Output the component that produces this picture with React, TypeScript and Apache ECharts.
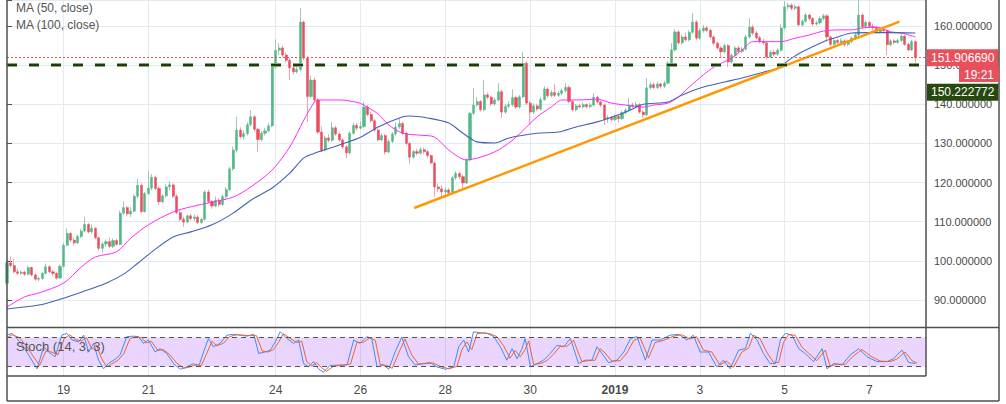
import React, { useEffect, useRef } from 'react';
import * as echarts from 'echarts';

// ---------- time axis (2-hour candles) ----------
const START_UTC = Date.UTC(2018, 11, 17, 16);
const SLOT_COUNT = 261;
const SLOT_HOURS = 2;
const DAY_LABELS: Record<string, string> = {
  '12-19': '19', '12-21': '21', '12-24': '24', '12-26': '26', '12-28': '28',
  '12-30': '30', '01-01': '2019', '01-03': '3', '01-05': '5', '01-07': '7',
};
const pad = (n: number) => (n < 10 ? '0' + n : '' + n);
const categories: string[] = [];
for (let i = 0; i < SLOT_COUNT; i++) {
  const d = new Date(START_UTC + i * SLOT_HOURS * 3600e3);
  categories.push(`${pad(d.getUTCMonth() + 1)}-${pad(d.getUTCDate())} ${pad(d.getUTCHours())}`);
}
const isDayTick = (v: string) => v.endsWith(' 00') && DAY_LABELS[v.slice(0, 5)] !== undefined;

// ---------- candles: [open, close, low, high] ----------
const candles: number[][] = [
  [94.3, 99.5, 93.8, 100.2], [99.5, 98.8, 98.3, 101.1], [98.8, 97.2, 96.8, 100.6], [97.2, 96.8, 96.3, 98],
  [96.8, 97.1, 96.4, 97.6], [97.1, 96.6, 96.1, 97.5], [96.6, 98.3, 96.3, 98.8], [98.3, 96.4, 96, 98.5],
  [96.4, 95.3, 94.9, 96.8], [95.3, 95.5, 94.8, 96], [95.5, 96.8, 95.2, 97.2], [96.8, 98.5, 96.5, 99.3],
  [98.5, 97.2, 96.9, 98.9], [97.2, 96.8, 96.2, 97.7], [96.8, 95.6, 95.2, 97.2], [95.6, 98.6, 95.4, 99.1],
  [98.6, 104, 98.3, 104.6], [104, 107, 103.7, 108.3], [107, 105.3, 104.8, 107.4], [105.3, 104.6, 104, 106],
  [104.6, 106.2, 104.3, 106.7], [106.2, 107.6, 105.8, 108.2], [107.6, 109.3, 107.3, 111.2], [109.3, 107.4, 107, 109.7],
  [107.4, 108.3, 107, 109.3], [108.3, 105.9, 105.5, 108.7], [105.9, 103.2, 102.6, 106.2], [103.2, 104.3, 102.1, 104.8],
  [104.3, 104.9, 103.6, 105.5], [104.9, 103.7, 103.2, 105.9], [103.7, 105.2, 103.3, 105.7], [105.2, 104.2, 103.8, 105.6],
  [104.2, 112.2, 104, 112.8], [112.2, 113.6, 111.8, 115.2], [113.6, 112, 111.5, 114], [112, 112.7, 111.2, 113.8],
  [112.7, 116.5, 112.4, 117], [116.5, 119.3, 116, 121], [119.3, 112.6, 112.2, 119.8], [112.6, 117.2, 112.3, 117.6],
  [117.2, 118.6, 116.8, 123], [118.6, 121.3, 118, 122.2], [121.3, 118.5, 118, 121.8], [118.5, 115.1, 114.3, 119],
  [115.1, 116.6, 114.7, 117], [116.6, 118.9, 116.2, 119.6], [118.9, 119.4, 118.1, 120.4], [119.4, 116.5, 116, 119.8],
  [116.5, 112.3, 111.9, 117], [112.3, 110.6, 110.1, 112.9], [110.6, 109.9, 108.7, 111.3], [109.9, 111.5, 109.6, 111.9],
  [111.5, 110.8, 110.3, 112], [110.8, 111.2, 110.2, 111.8], [111.2, 109.8, 109.4, 111.6], [109.8, 110.6, 109.5, 111],
  [110.6, 117.6, 110.3, 118], [117.6, 115.2, 114.7, 118.2], [115.2, 114, 113.3, 115.6], [114, 115.5, 113.7, 116.4],
  [115.5, 114.4, 113.8, 116], [114.4, 116.4, 114, 116.9], [116.4, 118.2, 115.9, 118.8], [118.2, 123.5, 117.8, 124],
  [123.5, 128.3, 123, 129.2], [128.3, 133.4, 127.6, 136.8], [133.4, 131.7, 131.2, 134.1], [131.7, 132.5, 131, 133.3],
  [132.5, 134.8, 132, 135.4], [134.8, 136.8, 134.3, 138.5], [136.8, 133.6, 133, 137.2], [133.6, 131, 127.8, 134],
  [131, 132.6, 130.5, 133.2], [132.6, 133.2, 132, 134], [133.2, 134.5, 132.8, 135.2], [134.5, 149.5, 134.1, 150.3],
  [149.5, 153.8, 149, 156.6], [153.8, 154.4, 152.6, 155.6], [154.4, 152.6, 152, 155], [152.6, 151.2, 150.6, 153.2],
  [151.2, 149.3, 146.2, 151.8], [149.3, 148.3, 147.6, 150.2], [148.3, 148.9, 147.9, 149.8], [148.9, 161, 148.4, 164.6],
  [161, 151.8, 151.2, 161.4], [151.8, 142, 135.5, 152.3], [142, 146.2, 141.5, 147.3], [146.2, 141.1, 140.5, 146.8],
  [141.1, 132.9, 132.4, 141.6], [132.9, 128.3, 127.8, 134.3], [128.3, 131.4, 128, 132], [131.4, 130.8, 130.2, 132.3],
  [130.8, 134, 130.4, 135.5], [134, 132.4, 131.9, 134.5], [132.4, 130.9, 130.4, 132.8], [130.9, 129.1, 128.6, 131.4],
  [129.1, 127.6, 126.2, 129.6], [127.6, 132.6, 127.2, 133.1], [132.6, 134.6, 132.2, 135.3], [134.6, 133.9, 133.3, 135.2],
  [133.9, 134.3, 133.5, 135.6], [134.3, 139.3, 134, 140.6], [139.3, 137.4, 136.9, 139.8], [137.4, 135.8, 135.3, 138],
  [135.8, 133.4, 133, 136.2], [133.4, 130.9, 130.5, 133.8], [130.9, 132, 130.5, 132.6], [132, 127.8, 127.2, 132.4],
  [127.8, 130.5, 127.5, 131], [130.5, 132.4, 130.1, 132.9], [132.4, 134.2, 132, 135.4], [134.2, 135.1, 133.7, 136.4],
  [135.1, 132.6, 132.1, 135.5], [132.6, 130, 129.5, 133], [130, 126.5, 124.9, 130.4], [126.5, 127.9, 126.1, 128.4],
  [127.9, 127.5, 127, 128.6], [127.5, 128.4, 127.1, 129], [128.4, 127.9, 127.3, 128.9], [127.9, 126.9, 126.4, 128.4],
  [126.9, 125, 124.6, 127.2], [125, 118.9, 116.3, 125.3], [118.9, 118.4, 117.6, 119.8], [118.4, 117.6, 116.4, 119.3],
  [117.6, 118.1, 116, 118.8], [118.1, 117.4, 116.8, 118.6], [117.4, 121.2, 117.1, 121.7], [121.2, 122.3, 120.7, 122.9],
  [122.3, 121.5, 120.9, 122.8], [121.5, 119.9, 118, 122], [119.9, 125.8, 119.6, 126.2], [125.8, 137.7, 125.4, 138.1],
  [137.7, 139.8, 137.2, 144.2], [139.8, 140.7, 139.3, 141.8], [140.7, 138.6, 138.1, 141.1], [138.6, 142.4, 138.2, 146.2],
  [142.4, 141.8, 141.2, 143], [141.8, 140.1, 139.6, 142.2], [140.1, 141.1, 139.7, 141.7], [141.1, 143.2, 140.7, 145.4],
  [143.2, 138, 136.5, 143.7], [138, 139.5, 137.6, 140.1], [139.5, 139.9, 139, 140.8], [139.9, 141.7, 139.4, 143.8],
  [141.7, 139.3, 138.8, 142.2], [139.3, 141.9, 138.9, 142.4], [141.9, 150.5, 141.5, 153.4], [150.5, 140.3, 139.8, 151],
  [140.3, 138, 134.7, 140.8], [138, 139.6, 137.5, 140.2], [139.6, 138.8, 138.3, 140.1], [138.8, 141.2, 138.4, 141.8],
  [141.2, 143.9, 140.9, 144.6], [143.9, 142.2, 141.7, 144.3], [142.2, 143, 141.8, 143.6], [143, 142.3, 141.9, 145.2],
  [142.3, 142.8, 141.9, 143.4], [142.8, 143.5, 142.3, 144], [143.5, 144.3, 143, 145.4], [144.3, 140.7, 140.2, 144.8],
  [140.7, 138.6, 138.1, 141.1], [138.6, 139.6, 138.2, 140.1], [139.6, 139.3, 138.9, 140.1], [139.3, 139.9, 138.9, 140.4],
  [139.9, 139.4, 138.9, 140.2], [139.4, 139.8, 139, 140.3], [139.8, 141.8, 139.4, 142.8], [141.8, 140.6, 140.2, 142.2],
  [140.6, 139.8, 139.3, 141], [139.8, 136.2, 134.7, 140.2], [136.2, 136.6, 135.3, 137.2], [136.6, 136.1, 135.6, 137],
  [136.1, 136.9, 135.7, 137.4], [136.9, 136.3, 135.4, 137.4], [136.3, 137.9, 136, 138.4], [137.9, 138.5, 137.4, 139],
  [138.5, 139.8, 138.1, 141.6], [139.8, 139.5, 139, 140.4], [139.5, 139.9, 139.1, 140.5], [139.9, 138, 137.6, 140.3],
  [138, 137.3, 136.6, 138.5], [137.3, 144.2, 137, 146.7], [144.2, 145, 143.8, 145.6], [145, 144.3, 143.9, 145.5],
  [144.3, 145.2, 143.9, 145.8], [145.2, 144.6, 144.1, 145.5], [144.6, 145.4, 144.2, 146], [145.4, 150.5, 145.1, 151],
  [150.5, 153.9, 150.1, 155.6], [153.9, 158.5, 153.4, 159.2], [158.5, 155.7, 155.2, 158.9], [155.7, 157.2, 155.2, 157.7],
  [157.2, 156.5, 156, 158.4], [156.5, 158.4, 156.1, 158.9], [158.4, 161, 158, 163.3], [161, 156.9, 156.4, 161.5],
  [156.9, 158.8, 156.5, 159.4], [158.8, 159.5, 158.3, 160.3], [159.5, 158.9, 158.4, 160], [158.9, 157.2, 156.8, 159.3],
  [157.2, 155.6, 155.1, 157.6], [155.6, 154.4, 153.9, 156], [154.4, 153.4, 152.1, 154.9], [153.4, 155, 153, 155.5],
  [155, 150.8, 149.5, 155.4], [150.8, 152.5, 150.4, 153], [152.5, 154.4, 152.1, 154.9], [154.4, 153.5, 153, 155],
  [153.5, 154.1, 153, 154.7], [154.1, 157.2, 153.8, 157.7], [157.2, 159.7, 156.8, 162], [159.7, 158.2, 157.7, 160.3],
  [158.2, 157, 156.6, 158.7], [157, 156.1, 155.5, 157.5], [156.1, 155.7, 155.2, 156.8], [155.7, 152.1, 151.6, 156.1],
  [152.1, 153.3, 151.8, 153.8], [153.3, 152.8, 152.3, 153.9], [152.8, 153.8, 152.4, 154.3], [153.8, 159.5, 153.5, 160.4],
  [159.5, 164.9, 159.1, 166.4], [164.9, 165.3, 164.3, 166], [165.3, 164.5, 164, 165.8], [164.5, 164.9, 164.1, 165.5],
  [164.9, 160.3, 159.8, 165.2], [160.3, 161.2, 159.8, 161.7], [161.2, 162.8, 160.8, 163.4], [162.8, 161.9, 161.4, 163.2],
  [161.9, 160.5, 160, 162.3], [160.5, 160.8, 160.1, 161.3], [160.8, 161.9, 160.4, 162.4], [161.9, 162.6, 161.4, 163.1],
  [162.6, 157.2, 156, 163], [157.2, 155.3, 154.9, 157.6], [155.3, 156.3, 155, 156.8], [156.3, 155.8, 155.3, 156.7],
  [155.8, 156.2, 155.4, 156.9], [156.2, 155.3, 154.7, 156.6], [155.3, 156, 154.9, 156.4], [156, 156.9, 155.6, 157.3],
  [156.9, 157.7, 156.5, 158.4], [157.7, 162.8, 157.3, 166.6], [162.8, 159.8, 159.3, 163.2], [159.8, 160.9, 159.4, 161.4],
  [160.9, 159.9, 159.5, 161.3], [159.9, 159.6, 158.9, 160.6], [159.6, 158.5, 158.1, 160], [158.5, 159, 158.1, 159.5],
  [159, 158.8, 158.3, 159.4], [158.8, 155.2, 152.6, 159.2], [155.2, 156.2, 154.8, 156.7], [156.2, 155.8, 155.3, 156.6],
  [155.8, 156.3, 155.4, 156.8], [156.3, 157.4, 155.9, 157.9], [157.4, 155.3, 154.9, 157.7], [155.3, 153.9, 153.5, 155.7],
  [153.9, 156, 153.6, 156.5], [156, 151.90669, 150.1, 156.3],
];

// ---------- moving averages: [candle index, value] ----------
const ma50: number[][] = [
  [0, 88.2], [5, 90.8], [9, 91.8], [16, 94.3], [21, 98.4], [25, 101], [31, 102.3], [35, 105.8], [40, 109.2],
  [47, 112.5], [52, 113.8], [58, 115], [64, 116.3], [69, 118.9], [75, 123.2], [80, 129.1], [84, 136], [87, 140.6],
  [88, 141.1], [94, 141.1], [99, 140.5], [101, 139.8], [105, 137.5], [108, 134.7], [112, 132.6], [117, 132.1],
  [121, 131.6], [125, 128.3], [130, 125.8], [134, 126.5], [139, 128.3], [144, 131.6], [150, 136.8], [154, 139.3],
  [157, 141.1], [161, 141.1], [167, 141.3], [171, 140.3], [175, 139.8], [180, 139.3], [183, 139.8], [187, 140.3],
  [190, 141.9], [193, 144.4], [197, 147.5], [200, 149.5], [205, 151.8], [208, 153.9], [211, 156], [215, 156],
  [219, 156], [223, 156.9], [227, 157.7], [231, 158.7], [235, 159], [239, 159], [242, 159.5], [246, 159.7],
  [250, 158.5], [253, 158.2], [257, 157.2],
];
const ma100: number[][] = [
  [0, 87.7], [9, 88.7], [15, 90.2], [21, 92], [28, 94.3], [33, 96.6], [37, 99.4], [41, 102.3], [47, 106.1],
  [52, 107.4], [58, 109.2], [64, 112.2], [69, 115.5], [75, 118.6], [80, 122.4], [84, 126.3], [87, 127.5],
  [89, 128.1], [94, 129.6], [100, 131.6], [105, 134.2], [112, 136.8], [114, 137], [119, 136.5], [125, 135.2],
  [129, 132.6], [133, 130.4], [138, 130.1], [142, 131.4], [150, 132.6], [156, 132.9], [161, 134.2], [167, 135.5],
  [173, 137.3], [177, 138.8], [180, 140], [187, 140.6], [191, 142.4], [197, 144.4], [203, 145.7], [208, 146.7],
  [214, 148.2], [218, 149.2], [222, 151.8], [225, 153.4], [231, 156], [235, 157.2], [239, 158.2], [244, 158.3],
  [249, 158.3], [257, 158.2],
];

// ---------- trend line and levels ----------
const trendLine: number[][] = [[115.2, 113.5], [252.5, 161.1]];
const LAST_PRICE = 151.90669;
const SUPPORT_LEVEL = 150.222772;
const COUNTDOWN = '19:21';
const Y_MIN = 83.1;
const Y_MAX = 166.64;

// ---------- stochastic (14,3,3): [candle index, value] ----------
const stochK: number[][] = [
  [0, 85], [1.4, 89], [2.8, 78], [4.7, 61], [8.5, 15], [10.4, 61], [11.8, 50], [13.6, 40], [15.5, 85], [16.9, 89],
  [18.4, 75], [20.3, 71], [21.7, 85], [23.1, 50], [24.5, 68], [25.9, 33], [27.3, 15], [28.7, 26], [30.6, 35], [32, 44],
  [33.9, 82], [35.8, 83], [37.2, 82], [38.6, 68], [40, 75], [41.9, 50], [43.3, 57], [45.2, 47], [47.1, 26], [49, 14],
  [50.9, 19], [52.8, 26], [54.2, 19], [55.6, 50], [57, 78], [58.4, 61], [60.3, 68], [62.2, 85], [64.1, 87], [66, 85],
  [67.9, 83], [69.8, 87], [71.2, 47], [73, 50], [74.5, 54], [75.9, 71], [77.3, 92], [79.2, 78], [81.1, 68], [82.5, 75],
  [83.9, 26], [85.3, 19], [86.7, 30], [88.1, 15], [89.5, 8], [91.4, 22], [94.3, 23], [96.2, 23], [98.1, 75], [99.9, 68],
  [101.8, 82], [103.2, 78], [104.7, 19], [106.5, 23], [108, 14], [109.8, 50], [111.7, 81], [113.6, 40], [115.5, 23],
  [117.9, 26], [119.7, 28], [121.6, 19], [124, 14], [126.4, 19], [127.8, 61], [129.2, 75], [130.6, 50], [132, 92],
  [133.9, 90], [135.8, 89], [137.7, 82], [139.6, 61], [141.4, 33], [142.9, 57], [144.3, 36], [145.7, 57], [146.6, 78],
  [148.1, 19], [150, 26], [151.8, 33], [153.7, 47], [155.6, 64], [157.5, 61], [159.4, 78], [161.7, 26], [163.6, 33],
  [165.5, 33], [166.9, 61], [168.3, 47], [170.2, 28], [172.6, 33], [174.5, 50], [176.4, 78], [178.2, 82], [180.6, 33],
  [182.5, 75], [184.8, 75], [187.6, 85], [190, 87], [192.3, 75], [194.2, 85], [196.1, 50], [198.5, 50], [200.8, 19],
  [202.7, 33], [204.6, 15], [207, 54], [208.9, 57], [210.3, 89], [212.2, 75], [214, 47], [215.9, 26], [217.4, 26],
  [218.8, 75], [220.2, 89], [222.1, 85], [224, 57], [225.8, 47], [228.2, 30], [230.6, 57], [232, 15], [233.9, 26],
  [236.2, 23], [238.6, 44], [241, 57], [243.3, 40], [246.1, 30], [249, 30], [250.8, 36], [253.2, 54], [255.1, 28],
  [257, 26],
];
const stochD: number[][] = [
  [0, 80], [1.5, 86], [3.5, 80], [5.5, 62], [9.2, 22], [11, 52], [12.6, 50], [14.4, 44], [16.2, 78], [17.8, 86],
  [19.3, 76], [21, 73], [22.5, 80], [24, 56], [25.3, 64], [26.8, 36], [28.2, 19], [29.6, 25], [31.4, 33], [33, 46],
  [34.8, 78], [36.6, 82], [38, 80], [39.4, 69], [40.9, 72], [42.7, 53], [44.2, 55], [46, 45], [48, 27], [50, 16],
  [51.8, 19], [53.5, 24], [55, 22], [56.5, 47], [58, 72], [59.3, 63], [61.2, 68], [63, 82], [65, 86], [67, 85],
  [68.8, 84], [70.6, 84], [72.2, 52], [73.9, 50], [75.4, 55], [76.8, 70], [78.2, 88], [80, 79], [82, 70], [83.4, 72],
  [84.8, 30], [86.2, 21], [87.6, 28], [89, 17], [90.4, 10], [92.3, 20], [95.2, 23], [97.2, 25], [99, 70], [100.8, 70],
  [102.7, 80], [104.2, 74], [105.6, 24], [107.4, 22], [109, 16], [110.7, 46], [112.6, 77], [114.5, 44], [116.4, 25],
  [118.8, 26], [120.6, 27], [122.5, 20], [125, 15], [127.3, 20], [128.7, 55], [130.1, 71], [131.5, 55], [133, 88],
  [134.8, 90], [136.7, 88], [138.6, 82], [140.5, 63], [142.3, 37], [143.8, 53], [145.2, 40], [146.6, 55], [147.6, 73],
  [149, 24], [151, 26], [152.7, 32], [154.6, 45], [156.5, 62], [158.4, 62], [160.3, 74], [162.6, 30], [164.5, 32],
  [166.4, 33], [167.8, 57], [169.2, 48], [171.1, 31], [173.5, 32], [175.4, 48], [177.3, 74], [179.1, 80], [181.5, 38],
  [183.4, 70], [185.7, 74], [188.5, 83], [190.9, 86], [193.2, 77], [195.1, 82], [197, 54], [199.4, 50], [201.7, 23],
  [203.6, 31], [205.5, 18], [207.9, 50], [209.8, 58], [211.2, 85], [213.1, 77], [214.9, 50], [216.8, 29], [218.3, 28],
  [219.7, 70], [221.1, 86], [223, 85], [224.9, 60], [226.7, 48], [229.1, 32], [231.5, 54], [232.9, 20], [234.8, 25],
  [237.1, 24], [239.5, 42], [241.9, 55], [244.2, 42], [247, 31], [249.9, 30], [251.7, 35], [254.1, 50], [256, 32],
  [257.5, 27],
];
const STOCH_UPPER = 80;
const STOCH_LOWER = 20;

// ---------- styling ----------
const FONT = "'Liberation Sans', Arial, sans-serif";
const GRID_COLOR = '#e2ebf2';
const FRAME_COLOR = '#4f4f4f';
const UP = '#53b987';
const DOWN = '#eb4d5c';
const UP_WICK = '#9fc6bb';
const DOWN_WICK = '#f2a3ab';

export default function App() {
  const ref = useRef<HTMLDivElement>(null);

  useEffect(() => {
    document.body.style.margin = '0';
    if (!ref.current) return;
    const chart = echarts.init(ref.current, undefined, { renderer: 'svg' });

    const bodyData = candles.map(([o, c]) => [o, c, Math.min(o, c), Math.max(o, c)]);
    const lastIdx = SLOT_COUNT - 1;

    const frameLine = (x1: number, y1: number, x2: number, y2: number) => ({
      type: 'line', silent: true, z: 100,
      shape: { x1, y1, x2, y2 },
      style: { stroke: FRAME_COLOR, lineWidth: 1.5 },
    });

    const option: any = {
      animation: false,
      backgroundColor: '#ffffff',
      grid: [
        { left: 7, right: 80, top: 0, height: 327 },
        { left: 7, right: 80, top: 328, height: 48 },
      ],
      xAxis: [
        {
          type: 'category', gridIndex: 0, data: categories, boundaryGap: false,
          axisLine: { show: false }, axisTick: { show: false }, axisLabel: { show: false },
          splitLine: { show: true, interval: (_i: number, v: string) => isDayTick(v), lineStyle: { color: GRID_COLOR, width: 1 } },
        },
        {
          type: 'category', gridIndex: 1, data: categories, boundaryGap: false,
          axisLine: { show: false }, axisTick: { show: false },
          axisLabel: {
            show: true, interval: (_i: number, v: string) => isDayTick(v), margin: 8,
            color: '#4a4a4a', fontSize: 12, fontFamily: FONT,
            formatter: (v: string) => {
              const lab = DAY_LABELS[v.slice(0, 5)];
              return lab === '2019' ? '{b|2019}' : lab;
            },
            rich: { b: { fontWeight: 'bold', fontSize: 12, color: '#4a4a4a', fontFamily: FONT } },
          },
          splitLine: { show: true, interval: (_i: number, v: string) => isDayTick(v), lineStyle: { color: GRID_COLOR, width: 1 } },
        },
        { type: 'value', gridIndex: 0, min: 0, max: lastIdx, show: false },
        { type: 'value', gridIndex: 1, min: 0, max: lastIdx, show: false },
      ],
      yAxis: [
        {
          type: 'value', gridIndex: 0, position: 'right', min: Y_MIN, max: Y_MAX, splitNumber: 8,
          axisLine: { show: false },
          axisTick: { show: true, length: 5, lineStyle: { color: FRAME_COLOR } },
          axisLabel: {
            margin: 8, color: '#4a4a4a', fontSize: 11, fontFamily: FONT,
            formatter: (v: number) => (Math.abs(v / 10 - Math.round(v / 10)) < 1e-6 ? v.toFixed(6) : ''),
          },
          splitLine: { show: true, lineStyle: { color: GRID_COLOR, width: 1 } },
        },
        { type: 'value', gridIndex: 1, min: 0, max: 100, show: false },
      ],
      series: [
        {
          name: 'wicks', type: 'candlestick', xAxisIndex: 0, yAxisIndex: 0,
          data: candles, barWidth: 1,
          itemStyle: { color: UP_WICK, color0: DOWN_WICK, borderColor: UP_WICK, borderColor0: DOWN_WICK, borderWidth: 1 },
          silent: true,
        },
        {
          name: 'bodies', type: 'candlestick', xAxisIndex: 0, yAxisIndex: 0,
          data: bodyData, barWidth: 2.6,
          itemStyle: { color: UP, color0: DOWN, borderColor: UP, borderColor0: DOWN, borderWidth: 0.5 },
          silent: true,
          markLine: {
            silent: true, symbol: ['none', 'none'], animation: false,
            data: [
              {
                yAxis: LAST_PRICE,
                lineStyle: { color: '#e8505b', type: [2, 2], width: 1 },
                label: {
                  show: true, position: 'end', distance: 1, formatter: LAST_PRICE.toFixed(6),
                  color: '#ffffff', backgroundColor: '#e8505b', padding: [3, 4, 2, 4],
                  fontSize: 12, fontFamily: FONT,
                },
              },
              {
                yAxis: SUPPORT_LEVEL,
                lineStyle: { color: '#8aa673', type: [10, 12], width: 4 },
                label: { show: false },
              },
              {
                yAxis: SUPPORT_LEVEL,
                lineStyle: { color: '#1f3b0c', type: [10, 12], width: 2 },
                label: {
                  show: true, position: 'end', distance: 1, offset: [0, 28], formatter: SUPPORT_LEVEL.toFixed(6),
                  color: '#ffffff', backgroundColor: '#27480f', padding: [3, 4, 2, 4],
                  fontSize: 12, fontFamily: FONT,
                },
              },
            ],
          },
        },
        {
          name: 'MA50', type: 'line', xAxisIndex: 2, yAxisIndex: 0, data: ma50,
          showSymbol: false, smooth: 0.3, silent: true,
          lineStyle: { color: '#ff2cff', width: 1 },
        },
        {
          name: 'MA100', type: 'line', xAxisIndex: 2, yAxisIndex: 0, data: ma100,
          showSymbol: false, smooth: 0.3, silent: true,
          lineStyle: { color: '#4461b4', width: 1.1 },
        },
        {
          name: 'trend', type: 'line', xAxisIndex: 2, yAxisIndex: 0, data: trendLine,
          showSymbol: false, silent: true,
          lineStyle: { color: '#ff9800', width: 2.5 },
        },
        {
          name: 'K', type: 'line', xAxisIndex: 3, yAxisIndex: 1, data: stochK,
          showSymbol: false, silent: true,
          lineStyle: { color: '#3d8ff0', width: 1 },
          markArea: {
            silent: true,
            itemStyle: { color: 'rgba(150, 40, 255, 0.195)' },
            data: [[{ yAxis: STOCH_LOWER }, { yAxis: STOCH_UPPER }]],
          },
          markLine: {
            silent: true, symbol: ['none', 'none'], label: { show: false },
            lineStyle: { color: '#555555', type: [5, 4], width: 1 },
            data: [{ yAxis: STOCH_LOWER }, { yAxis: STOCH_UPPER }],
          },
        },
        {
          name: 'D', type: 'line', xAxisIndex: 3, yAxisIndex: 1, data: stochD,
          showSymbol: false, silent: true,
          lineStyle: { color: '#f2622e', width: 1 },
        },
      ],
      graphic: [
        frameLine(7, 0, 7, 401),
        frameLine(926, 0, 926, 376),
        frameLine(999, 0, 999, 401),
        frameLine(7, 327.5, 999, 327.5),
        frameLine(7, 376, 926, 376),
        frameLine(7, 401, 999, 401),
        {
          type: 'text', x: 16, y: 8, silent: true, z: 100,
          style: { text: 'MA (50, close)', fill: '#555555', font: `12px ${FONT}`, verticalAlign: 'middle' },
        },
        {
          type: 'text', x: 16, y: 25, silent: true, z: 100,
          style: { text: 'MA (100, close)', fill: '#555555', font: `12px ${FONT}`, verticalAlign: 'middle' },
        },
        {
          type: 'text', x: 16, y: 346, silent: true, z: 100,
          style: { text: 'Stoch (14, 3, 3)', fill: '#555555', font: `13px ${FONT}`, verticalAlign: 'middle' },
        },
        {
          type: 'rect', silent: true, z: 101,
          shape: { x: 959, y: 66, width: 40, height: 16 },
          style: { fill: '#e8505b' },
        },
        {
          type: 'text', x: 979, y: 74.5, silent: true, z: 102,
          style: { text: COUNTDOWN, fill: '#ffffff', font: `12px ${FONT}`, align: 'center', verticalAlign: 'middle' },
        },
      ],
    };

    chart.setOption(option);
    return () => chart.dispose();
  }, []);

  return <div ref={ref} style={{ width: 1006, height: 404 }} />;
}
